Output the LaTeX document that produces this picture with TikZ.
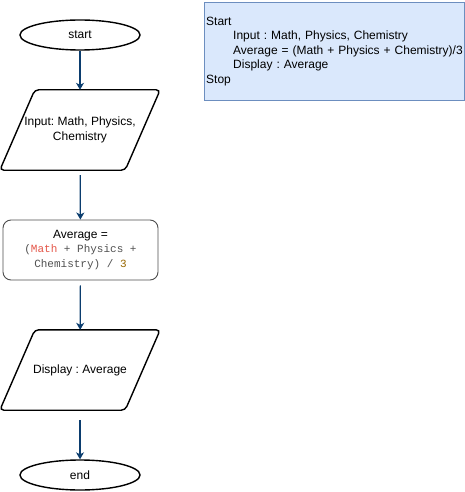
\documentclass[tikz,border=0pt]{standalone}
\usepackage{fontspec}
\setmainfont{Liberation Sans}
\newfontfamily\codefont{Liberation Mono}
\usetikzlibrary{shapes.geometric, arrows.meta}
\definecolor{flowline}{HTML}{0B3D6E}
\definecolor{notefill}{HTML}{DAE8FC}
\definecolor{noteline}{HTML}{6C8EBF}
\definecolor{codegray}{HTML}{505050}
\definecolor{codered}{HTML}{E45649}
\definecolor{codenum}{HTML}{986801}
\tikzset{
  font={\fontsize{12pt}{14.5pt}\selectfont},
  terminal/.style={draw, ellipse, line width=1.4pt, minimum width=120pt, minimum height=30pt, inner sep=0pt},
  inout/.style={minimum width=160pt, minimum height=80pt, inner sep=0pt, align=center},
  ioline/.style={draw, line width=1.4pt, rounded corners=4pt},
  process/.style={draw=black!70, rounded corners=8pt, line width=0.9pt,
    minimum width=155pt, minimum height=60pt, inner sep=0pt, align=center},
  flow/.style={-{Stealth[length=7pt, width=8pt, inset=2pt]}, draw=flowline, line width=1.2pt}
}
\newcommand{\code}[1]{{\codefont\fontsize{11pt}{15.5pt}\selectfont\color{codegray}#1}}

\begin{document}
\frenchspacing
\begin{tikzpicture}[x=1pt, y=-1pt]
  \useasboundingbox (0,0) rectangle (465,492);
  % flowchart
  \node (start) [terminal] at (80,35) {start};
  \node (input) [inout] at (80,130) {Input: Math, Physics,\\Chemistry};
  \node (avg) [process] at (80.5,250) {Average =\\\code{(\textcolor{codered}{Math} + Physics +}\\\code{Chemistry) / \textcolor{codenum}{3}}};
  \node (show) [inout] at (80,370) {Display : Average};
  \node (stop) [terminal] at (80,475) {end};
  % parallelogram outlines
  \foreach \io in {input, show}
    \draw[ioline] ([xshift=35pt]\io.north west) -- (\io.north east)
      -- ([xshift=-35pt]\io.south east) -- (\io.south west) -- cycle;
  \draw[flow] (start) -- (input);
  \draw[flow, shorten <=5pt] (input) -- (avg);
  \draw[flow, shorten <=5pt] (avg) -- (show);
  \draw[flow, shorten <=10pt] (show) -- (stop);
  % pseudocode
  \node (pseudo) [draw=noteline, fill=notefill, anchor=north west, text width=256pt,
    inner xsep=2pt, minimum height=98pt, align=left] at (204,2)
    {\mbox{Start}\\
     \mbox{\hspace*{27pt}Input : Math, Physics, Chemistry}\\
     \mbox{\hspace*{27pt}Average = (Math + Physics + Chemistry)/3}\\
     \mbox{\hspace*{27pt}Display : Average}\\
     \mbox{Stop}};
\end{tikzpicture}
\end{document}
